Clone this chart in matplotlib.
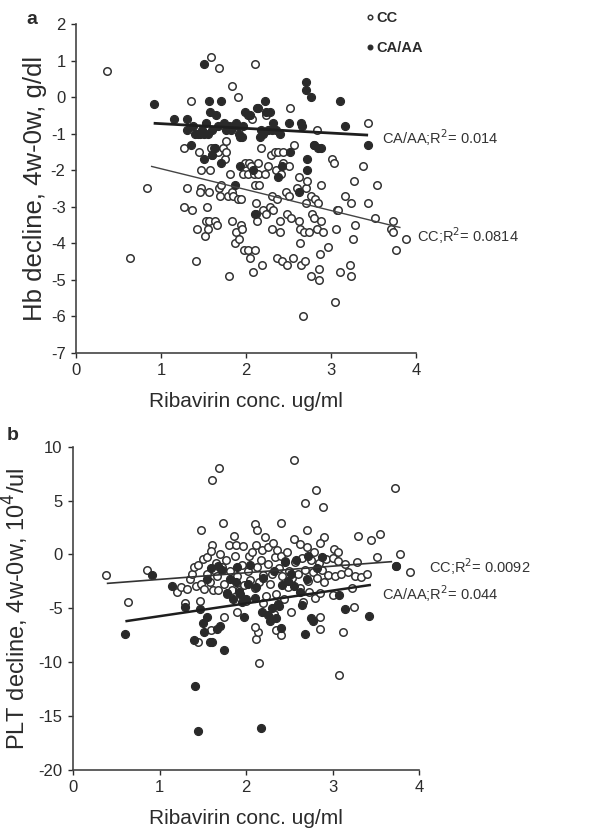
import matplotlib
matplotlib.use("Agg")
import matplotlib.pyplot as plt
import numpy as np

# ---------------- Panel a: Hb decline ----------------
a_cc_x = [0.36, 0.63, 0.84, 1.27, 1.30, 1.27, 1.35, 1.37, 1.41, 1.42, 1.45, 1.47, 1.47, 1.46,
          1.52, 1.53, 1.54, 1.55, 1.56, 1.57, 1.58, 1.59, 1.59, 1.60, 1.62, 1.63, 1.66, 1.67,
          1.68, 1.68, 1.69, 1.71, 1.73, 1.75, 1.76, 1.77, 1.79, 1.80, 1.81, 1.83, 1.83, 1.84,
          1.85, 1.87, 1.88, 1.90, 1.91, 1.92, 1.94, 1.94, 1.95, 1.97, 1.98, 1.99, 2.02, 2.02,
          2.04, 2.05, 2.06, 2.07, 2.08, 2.09, 2.10, 2.11, 2.11, 2.12, 2.12, 2.13, 2.14, 2.14,
          2.15, 2.18, 2.19, 2.20, 2.22, 2.23, 2.24, 2.26, 2.28, 2.29, 2.30, 2.31, 2.32, 2.34,
          2.35, 2.36, 2.37, 2.38, 2.40, 2.40, 2.41, 2.42, 2.43, 2.44, 2.47, 2.48, 2.48, 2.50,
          2.51, 2.52, 2.53, 2.55, 2.56, 2.60, 2.62, 2.62, 2.63, 2.64, 2.65, 2.67, 2.68, 2.69,
          2.70, 2.71, 2.72, 2.74, 2.76, 2.77, 2.78, 2.80, 2.80, 2.81, 2.83, 2.84, 2.85, 2.86,
          2.86, 2.87, 2.88, 2.88, 2.90, 2.96, 3.01, 3.03, 3.05, 3.06, 3.07, 3.08, 3.10, 3.16,
          3.22, 3.23, 3.24, 3.26, 3.27, 3.28, 3.38, 3.43, 3.44, 3.52, 3.54, 3.71, 3.73, 3.73,
          3.77, 3.88]
a_cc_y = [0.7, -4.4, -2.5, -1.4, -2.5, -3.0, -0.1, -3.1, -4.5, -3.6, -1.5, -2.0, -2.5, -2.6,
          -3.8, -3.4, -3.0, -3.6, -3.4, -2.6, -2.0, 1.1, -1.4, -1.6, -1.4, -3.4, -3.5, -1.5,
          0.8, -2.5, -2.7, -2.4, -1.4, -1.7, -1.5, -1.2, -2.7, -4.9, -2.1, -2.6, -3.4, 0.3,
          -2.7, -4.0, -3.7, 0.0, -2.8, -3.9, -2.8, -3.5, -3.6, -2.1, -4.2, -1.8, -2.1, -4.2,
          -1.8, -4.4, -1.9, -0.6, -4.8, -2.1, -2.4, 0.9, -4.2, -2.9, -3.2, -3.4, -1.8, -2.1,
          -2.4, -1.4, -4.6, -3.1, -2.1, -0.5, -3.2, -1.9, -3.0, -1.6, -2.7, -3.6, -3.1, -1.5,
          -2.0, -4.4, -2.8, -1.5, -3.7, -3.4, -2.1, -4.5, -1.8, -1.5, -2.6, -3.2, -4.6, -2.7,
          -1.9, -0.3, -3.3, -4.4, -1.3, -2.5, -2.2, -3.4, -3.6, -4.0, -4.6, -6.0, -3.7, -4.5,
          -2.9, -2.5, -2.3, -3.7, -4.9, -2.7, -3.2, -3.3, -1.3, -2.8, -0.9, -3.6, -2.9, -4.7,
          -5.0, -4.3, -2.4, -3.4, -3.7, -4.1, -1.7, -1.8, -5.6, -3.6, -3.1, -3.1, -4.8, -2.7,
          -4.6, -4.9, -2.9, -3.9, -2.3, -3.5, -1.9, -0.7, -2.9, -3.3, -2.4, -3.6, -3.4, -3.7,
          -4.2, -3.9]
a_ca_x = [0.92, 1.15, 1.30, 1.31, 1.35, 1.38, 1.40, 1.43, 1.46, 1.48, 1.50, 1.50, 1.50, 1.53,
          1.55, 1.57, 1.58, 1.60, 1.60, 1.63, 1.65, 1.67, 1.70, 1.70, 1.74, 1.77, 1.80, 1.82,
          1.85, 1.87, 1.88, 1.90, 1.92, 1.93, 1.93, 1.95, 1.97, 1.99, 2.02, 2.05, 2.08, 2.10,
          2.13, 2.14, 2.16, 2.18, 2.20, 2.22, 2.24, 2.26, 2.28, 2.30, 2.32, 2.35, 2.38, 2.40,
          2.42, 2.50, 2.52, 2.62, 2.65, 2.66, 2.70, 2.70, 2.72, 2.72, 2.77, 2.80, 2.85, 2.88,
          3.10, 3.17, 3.44]
a_ca_y = [-0.2, -0.6, -0.6, -0.9, -1.3, -0.8, -1.0, -1.0, -1.0, -0.9, 0.9, -1.0, -1.7, -0.7,
          -1.0, -0.1, -0.4, -0.9, -1.6, -1.4, -0.5, -0.8, -0.1, -1.8, -0.7, -0.9, -0.8, -0.9,
          -0.8, -2.4, -0.7, -0.8, -1.0, -1.1, -1.9, -1.1, -0.8, -0.4, -0.5, -0.5, -2.0, -3.2,
          -0.3, -0.3, -1.1, -0.9, -1.0, -0.1, -0.4, -0.9, -0.4, -0.9, -0.7, -0.9, -2.2, -1.0,
          -1.9, -0.7, -1.5, -2.6, -0.7, -0.8, 0.2, 0.4, -1.7, -2.0, 0.0, -1.3, -1.4, -1.4,
          -0.1, -0.8, -1.3]
a_cc_fit_x = [0.89, 3.81]
a_cc_fit_y = [-1.90, -3.57]
a_ca_fit_x = [0.93, 3.42]
a_ca_fit_y = [-0.72, -1.04]

# ---------------- Panel b: PLT decline ----------------
b_cc_x = [0.38, 0.64, 0.86, 1.48, 1.61, 1.69, 1.73, 1.61, 2.56, 2.68, 2.81, 2.89, 2.41, 2.10,
          2.13, 2.71, 3.72, 3.55, 3.44, 3.30, 2.90, 2.86, 3.02, 3.06, 3.78, 3.51, 3.90, 3.73,
          3.07, 2.15, 3.12, 3.25, 2.85, 2.86, 1.45, 1.60, 2.12, 2.14, 2.10, 2.35, 2.40, 1.75,
          1.20, 1.25, 1.30, 1.32, 1.35, 1.38, 1.40, 1.42, 1.45, 1.47, 1.48, 1.50, 1.52, 1.55,
          1.55, 1.58, 1.60, 1.62, 1.63, 1.65, 1.67, 1.68, 1.70, 1.72, 1.75, 1.77, 1.78, 1.80,
          1.82, 1.84, 1.86, 1.87, 1.88, 1.90, 1.92, 1.95, 1.97, 1.98, 2.00, 2.02, 2.04, 2.05,
          2.07, 2.10, 2.12, 2.13, 2.15, 2.17, 2.18, 2.20, 2.22, 2.23, 2.25, 2.26, 2.28, 2.30,
          2.31, 2.33, 2.35, 2.36, 2.38, 2.40, 2.42, 2.44, 2.45, 2.47, 2.49, 2.50, 2.52, 2.53,
          2.55, 2.57, 2.60, 2.62, 2.63, 2.65, 2.66, 2.68, 2.70, 2.72, 2.73, 2.75, 2.77, 2.79,
          2.80, 2.82, 2.84, 2.86, 2.88, 2.90, 2.93, 2.95, 3.00, 3.03, 3.06, 3.10, 3.14, 3.18,
          3.22, 3.26, 3.28, 3.33, 3.40, 3.00, 2.20, 2.32, 1.90]
b_cc_y = [-1.9, -4.4, -1.4, 2.3, 6.9, 8.0, 2.9, 0.9, 8.8, 4.8, 6.0, 4.4, 2.9, 2.8,
          2.3, 2.3, 6.2, 1.9, 1.3, 1.7, 1.6, 1.1, 0.5, 0.2, 0.0, -0.2, -1.6, -1.1,
          -11.2, -10.1, -7.2, -4.9, -6.9, -5.8, -8.1, -7.0, -7.8, -7.2, -6.7, -7.0, -7.5, -5.8,
          -3.5, -3.0, -4.5, -3.2, -2.3, -1.8, -1.2, -2.9, -1.0, -4.3, -2.7, -0.4, -3.2, -1.8,
          -0.2, -2.6, 0.3, -3.3, -1.4, -0.8, -2.0, -3.3, 0.0, -1.2, -2.7, -0.5, -3.7, 0.9,
          -1.5, -3.3, 1.7, -0.1, 0.9, -2.0, -3.3, -1.0, 0.8, -2.8, -4.3, -1.5, -0.1, -2.4,
          0.2, -3.1, 0.9, -1.2, -2.6, -0.5, 0.4, -1.9, 1.6, -3.9, -0.9, 0.7, -2.7, -1.8,
          1.1, -0.2, -3.7, 0.4, -1.3, -0.1, -2.0, -4.1, -0.6, 0.2, -3.0, -1.5, -5.3, -2.2,
          1.4, -0.7, -1.8, -3.1, 1.0, -0.3, -4.4, -1.4, 0.7, -2.5, -3.5, -0.5, -1.6, 0.2,
          -4.0, -2.2, -0.8, -3.6, -1.4, -2.6, -0.4, -1.9, -0.3, -2.0, -0.6, -1.8, -0.9, -1.6,
          -3.1, -2.0, -0.7, -2.1, -1.8, -3.8, -4.5, -5.5, -5.3]
b_ca_x = [0.60, 0.91, 1.15, 1.30, 1.40, 1.41, 1.45, 1.47, 1.50, 1.52, 1.55, 1.58, 1.61, 1.66,
          1.70, 1.75, 1.55, 1.60, 1.68, 1.72, 1.78, 1.82, 1.85, 1.88, 1.90, 1.92, 1.95, 1.98,
          2.00, 2.02, 2.05, 2.10, 2.12, 2.17, 2.18, 2.20, 2.25, 2.28, 2.30, 2.32, 2.35, 2.38,
          2.40, 2.42, 2.45, 2.48, 2.52, 2.55, 2.58, 2.62, 2.65, 2.68, 2.70, 2.72, 2.75, 2.78,
          2.82, 2.88, 3.07, 3.15, 3.42, 3.73, 2.37, 1.93]
b_ca_y = [-7.4, -1.9, -2.9, -4.9, -7.9, -12.2, -16.4, -5.1, -6.4, -7.2, -5.8, -8.1, -8.1, -6.9,
          -6.6, -8.9, -2.3, -1.3, -1.1, -1.4, -3.6, -2.3, -4.1, -2.6, -1.2, -3.5, -4.4, -5.8,
          -4.1, -2.7, -1.0, -4.0, -3.0, -16.1, -5.3, -2.2, -5.6, -6.2, -5.0, -1.5, -5.9, -4.8,
          -6.8, -2.8, -0.7, -2.5, -1.8, -2.9, -0.5, -3.5, -4.7, -7.4, -2.3, -0.1, -5.9, -6.2,
          -1.3, -0.2, -3.8, -5.1, -5.7, -1.1, -4.6, -3.7]
b_cc_fit_x = [0.40, 3.68]
b_cc_fit_y = [-2.68, -0.67]
b_ca_fit_x = [0.62, 3.43]
b_ca_fit_y = [-6.18, -2.84]

x_ticks = [0, 1, 2, 3, 4]
a_y_ticks = [-7, -6, -5, -4, -3, -2, -1, 0, 1, 2]
b_y_ticks = [-20, -15, -10, -5, 0, 5, 10]

INK = "#2b2b2b"
plt.rcParams["font.family"] = ["Liberation Sans", "DejaVu Sans"]
plt.rcParams["axes.unicode_minus"] = False
plt.rcParams["text.color"] = INK
plt.rcParams["axes.labelcolor"] = INK
plt.rcParams["xtick.color"] = INK
plt.rcParams["ytick.color"] = INK

fig = plt.figure(figsize=(5.97, 8.34), dpi=100)
W, H = 597.0, 834.0

def make_ax(l, r, t, b):
    return fig.add_axes([l / W, 1 - b / H, (r - l) / W, (b - t) / H])

ax_a = make_ax(76, 416, 24, 352.7)
ax_b = make_ax(73, 419, 446.7, 770)

def style(ax, yticks, ylabel, ysize, ylab_x):
    for s in ["top", "right"]:
        ax.spines[s].set_visible(False)
    for s in ["left", "bottom"]:
        ax.spines[s].set_color("#444444")
        ax.spines[s].set_linewidth(1.2)
    ax.set_xlim(0, 4)
    ax.set_ylim(yticks[0], yticks[-1])
    ax.set_xticks(x_ticks)
    ax.set_yticks(yticks)
    ax.tick_params(direction="out", length=3.5, width=1.0, labelsize=12, pad=4)
    ax.set_xlabel("Ribavirin conc. ug/ml", fontsize=15, labelpad=10)
    ax.set_ylabel(ylabel, fontsize=ysize)
    ax.yaxis.set_label_coords(ylab_x, 0.5)

open_kw = dict(linestyle="none", marker="o", markersize=5.4, markerfacecolor="white",
               markeredgecolor="#333333", markeredgewidth=1.1, clip_on=False)
fill_kw = dict(linestyle="none", marker="o", markersize=5.8, markerfacecolor="#2a2a2a",
               markeredgecolor="#2a2a2a", markeredgewidth=0.8, clip_on=False)

# panel a
h_cc, = ax_a.plot(a_cc_x, a_cc_y, **open_kw)
h_ca, = ax_a.plot(a_ca_x, a_ca_y, **fill_kw)
ax_a.plot(a_cc_fit_x, a_cc_fit_y, color="#444444", linewidth=1.0)
ax_a.plot(a_ca_fit_x, a_ca_fit_y, color="#1e1e1e", linewidth=2.0)
style(ax_a, a_y_ticks, "Hb decline, 4w-0w, g/dl", 18.5, -0.085)
ax_a.text(a_ca_fit_x[-1] + 0.18, a_ca_fit_y[-1] - 0.07, "CA/AA;R$^2$= 0.014",
          fontsize=10.5, va="center", ha="left", color="#333333")
ax_a.text(a_cc_fit_x[-1] + 0.2, a_cc_fit_y[-1] - 0.22, "CC;R$^2$= 0.0814",
          fontsize=10.5, va="center", ha="left", color="#333333")
leg = ax_a.legend([h_cc, h_ca], ["CC", "CA/AA"], loc="upper left",
                  bbox_to_anchor=(0.812, 1.08), frameon=False, markerscale=0.6,
                  handlelength=0.6, handletextpad=0.2, labelspacing=1.1,
                  prop={"weight": "bold", "size": 10.5})

# panel b
ax_b.plot(b_cc_x, b_cc_y, **open_kw)
ax_b.plot(b_ca_x, b_ca_y, **fill_kw)
ax_b.plot(b_cc_fit_x, b_cc_fit_y, color="#333333", linewidth=1.2)
ax_b.plot(b_ca_fit_x, b_ca_fit_y, color="#1e1e1e", linewidth=1.8)
style(ax_b, b_y_ticks, "PLT decline, 4w-0w, 10$^4$/ul", 17, -0.122)
ax_b.text(b_cc_fit_x[-1] + 0.43, b_cc_fit_y[-1] - 0.45, "CC;R$^2$= 0.0092",
          fontsize=10.5, va="center", ha="left", color="#333333")
ax_b.text(b_ca_fit_x[-1] + 0.14, b_ca_fit_y[-1] - 0.75, "CA/AA;R$^2$= 0.044",
          fontsize=10.5, va="center", ha="left", color="#333333")

fig.text(32 / W, 1 - 20 / H, "a", fontsize=14, fontweight="bold", ha="center", va="center")
fig.text(13 / W, 1 - 436 / H, "b", fontsize=14, fontweight="bold", ha="center", va="center")

fig.savefig("out.png", dpi=100, facecolor="white")
